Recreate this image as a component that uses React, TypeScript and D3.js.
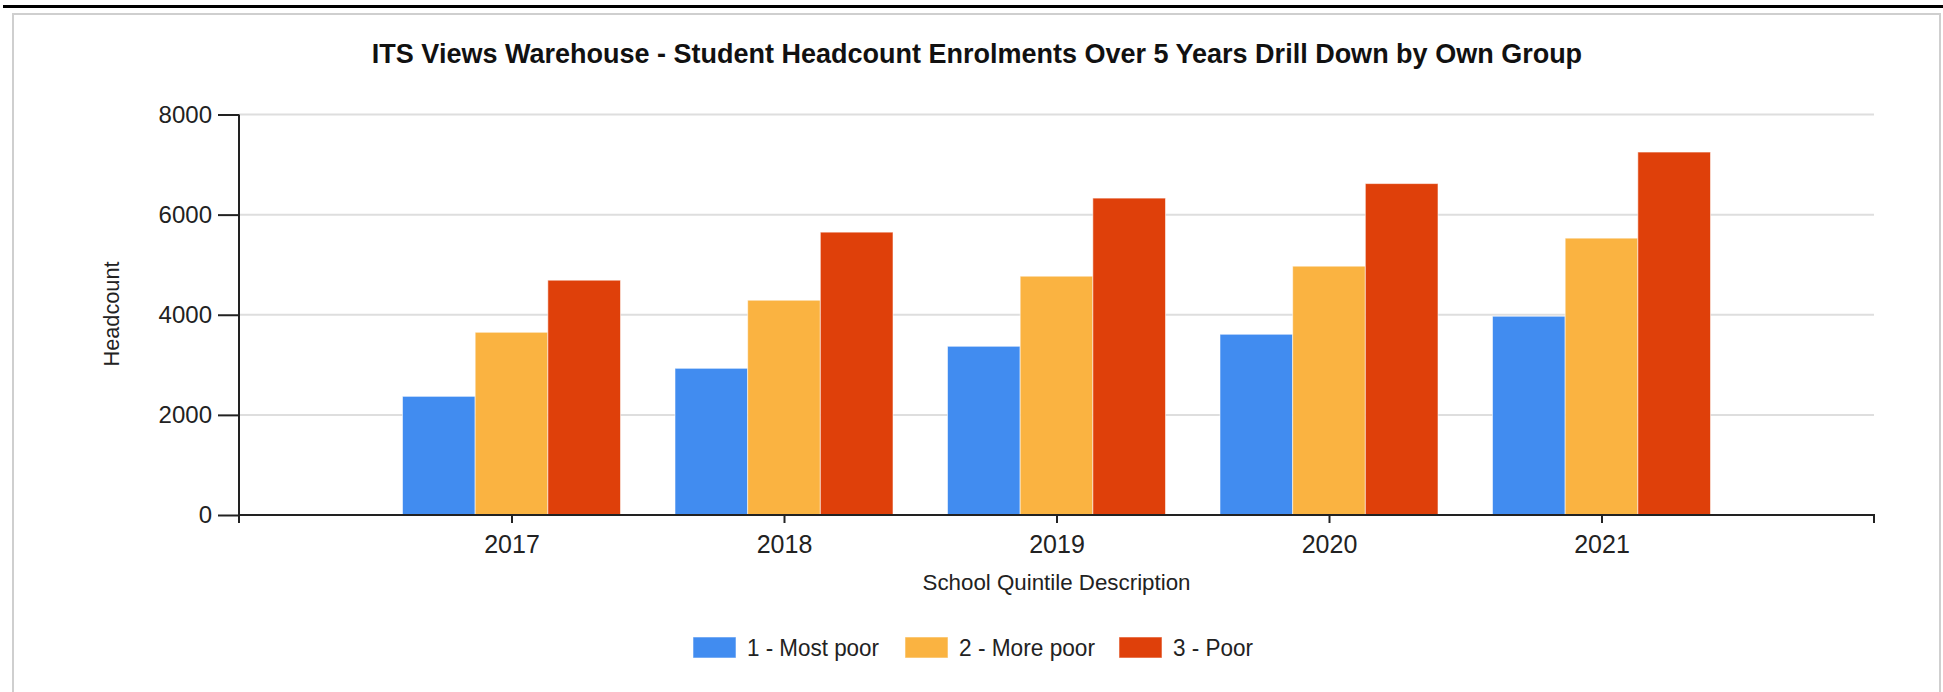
import { useEffect, useRef } from 'react';
import * as d3 from 'd3';

// Student headcount per school quintile, 2017–2021
const YEARS = ['2017', '2018', '2019', '2020', '2021'];
const SERIES = ['1 - Most poor', '2 - More poor', '3 - Poor'];
const MOST_POOR = [2370, 2930, 3370, 3610, 3970];
const MORE_POOR = [3650, 4290, 4770, 4970, 5530];
const POOR = [4690, 5650, 6330, 6620, 7250];
const Y_TICKS = [0, 2000, 4000, 6000, 8000];

const COLORS = ['#418cf0', '#fab341', '#df400a'];
const TITLE = 'ITS Views Warehouse - Student Headcount Enrolments Over 5 Years Drill Down by Own Group';

const W = 1943;
const H = 692;
const FONT = '"Liberation Sans", Arial, sans-serif';

export default function App() {
  const svgRef = useRef<SVGSVGElement>(null);

  useEffect(() => {
    if (!svgRef.current) return;
    const svg = d3.select(svgRef.current);
    svg.selectAll('*').remove();

    const values = [MOST_POOR, MORE_POOR, POOR];
    const left = 239;
    const right = 1874;

    const x0 = d3.scalePoint<string>().domain(YEARS).range([left, right]).padding(1);
    const groupW = x0.step() * 0.8;
    const x1 = d3.scaleBand<string>().domain(SERIES).range([-groupW / 2, groupW / 2]);
    const y = d3.scaleLinear().domain([0, 8000]).range([515, 114.5]);

    // page frame
    svg.append('line').attr('x1', 3).attr('x2', W).attr('y1', 6.5).attr('y2', 6.5)
      .attr('stroke', '#000').attr('stroke-width', 3);
    svg.append('path').attr('d', `M13,${H} V14 H1940 V${H}`)
      .attr('fill', 'none').attr('stroke', '#cfcfcf').attr('stroke-width', 2);

    // title
    svg.append('text')
      .attr('x', 977).attr('y', 63)
      .attr('text-anchor', 'middle')
      .attr('font-family', FONT).attr('font-weight', 'bold').attr('font-size', 27)
      .attr('fill', '#111')
      .text(TITLE);

    // gridlines
    svg.append('g').selectAll('line')
      .data(Y_TICKS.filter((t) => t > 0))
      .join('line')
      .attr('x1', left).attr('x2', right)
      .attr('y1', (d) => y(d)).attr('y2', (d) => y(d))
      .attr('stroke', '#dedede').attr('stroke-width', 2);

    // bars
    const g = svg.append('g');
    SERIES.forEach((s, si) => {
      g.append('g').selectAll('rect')
        .data(values[si])
        .join('rect')
        .attr('x', (_d, i) => (x0(YEARS[i]) ?? 0) + (x1(s) ?? 0))
        .attr('y', (d) => y(d))
        .attr('width', x1.bandwidth())
        .attr('height', (d) => y(0) - y(d))
        .attr('fill', COLORS[si])
        .attr('stroke', 'rgba(255,255,255,0.55)')
        .attr('stroke-width', 1);
    });

    // y axis
    const yAxis = svg.append('g').attr('transform', `translate(${left},0)`)
      .call(d3.axisLeft(y).tickValues(Y_TICKS).tickFormat(d3.format('d'))
        .tickSize(21).tickPadding(6).tickSizeOuter(0));
    yAxis.select('.domain').remove();
    yAxis.append('line').attr('x1', 0).attr('x2', 0).attr('y1', y(8000)).attr('y2', 523)
      .attr('stroke', '#222').attr('stroke-width', 2);
    yAxis.selectAll('.tick line').attr('stroke', '#222').attr('stroke-width', 2);
    yAxis.selectAll('.tick text')
      .attr('font-family', FONT).attr('font-size', 24).attr('fill', '#222');

    // x axis
    const xAxis = svg.append('g').attr('transform', `translate(0,${y(0)})`)
      .call(d3.axisBottom(x0).tickSize(8).tickPadding(12).tickSizeOuter(0));
    xAxis.select('.domain').remove();
    xAxis.append('path').attr('d', `M${left},8 V0 H${right} V8`)
      .attr('fill', 'none').attr('stroke', '#222').attr('stroke-width', 2);
    xAxis.selectAll('.tick line').attr('stroke', '#222').attr('stroke-width', 2);
    xAxis.selectAll('.tick text')
      .attr('font-family', FONT).attr('font-size', 25).attr('fill', '#222');

    // axis titles
    svg.append('text')
      .attr('transform', 'translate(119,314) rotate(-90)')
      .attr('text-anchor', 'middle')
      .attr('font-family', FONT).attr('font-size', 22).attr('fill', '#222')
      .attr('textLength', 105).attr('lengthAdjust', 'spacingAndGlyphs')
      .text('Headcount');
    svg.append('text')
      .attr('x', (left + right) / 2).attr('y', 590)
      .attr('text-anchor', 'middle')
      .attr('font-family', FONT).attr('font-size', 22).attr('fill', '#222')
      .attr('textLength', 268).attr('lengthAdjust', 'spacingAndGlyphs')
      .text('School Quintile Description');

    // legend
    const legendX = [693, 905, 1119];
    const legendW = [132, 136, 80];
    const lg = svg.append('g');
    SERIES.forEach((s, i) => {
      lg.append('rect')
        .attr('x', legendX[i]).attr('y', 637).attr('width', 43).attr('height', 21)
        .attr('fill', COLORS[i])
        .attr('stroke', 'rgba(255,255,255,0.55)').attr('stroke-width', 1);
      lg.append('text')
        .attr('x', legendX[i] + 54).attr('y', 656)
        .attr('font-family', FONT).attr('font-size', 23).attr('fill', '#222')
        .attr('textLength', legendW[i]).attr('lengthAdjust', 'spacingAndGlyphs')
        .text(s);
    });
  }, []);

  return (
    <svg
      ref={svgRef}
      width={W}
      height={H}
      style={{ display: 'block', position: 'absolute', left: 0, top: 0, background: '#fff' }}
      role="img"
      aria-label={TITLE}
    />
  );
}
